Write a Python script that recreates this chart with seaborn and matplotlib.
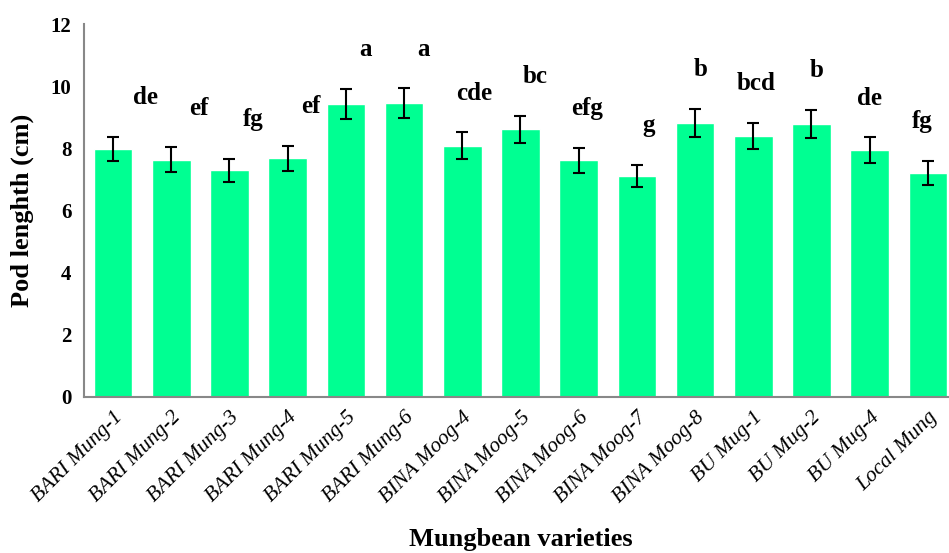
import numpy as np
import pandas as pd
import matplotlib
matplotlib.use("Agg")
import matplotlib.pyplot as plt
import seaborn as sns

# Pod length of mungbean varieties
varieties = ["BARI Mung-1", "BARI Mung-2", "BARI Mung-3", "BARI Mung-4", "BARI Mung-5",
             "BARI Mung-6", "BINA Moog-4", "BINA Moog-5", "BINA Moog-6", "BINA Moog-7",
             "BINA Moog-8", "BU Mug-1", "BU Mug-2", "BU Mug-4", "Local Mung"]
pod_length = [7.98, 7.63, 7.30, 7.68, 9.43, 9.45, 8.09, 8.61, 7.61, 7.10,
              8.81, 8.40, 8.78, 7.95, 7.21]
pod_err = [0.40, 0.40, 0.37, 0.40, 0.48, 0.48, 0.42, 0.43, 0.40, 0.36,
           0.46, 0.43, 0.45, 0.41, 0.38]
letters = ["de", "ef", "fg", "ef", "a", "a", "cde", "bc", "efg", "g",
           "b", "bcd", "b", "de", "fg"]
# letters were placed by hand in the original, slightly to the right of each bar
letter_shift = [0.55, 0.48, 0.41, 0.40, 0.34, 0.33, 0.21, 0.26, 0.15, 0.21,
                0.10, 0.05, 0.09, 0.0, -0.09]

df = pd.DataFrame({"variety": varieties, "length": pod_length})

sns.set_style("white")
plt.rcParams["font.family"] = ["Liberation Serif", "DejaVu Serif"]
plt.rcParams["text.color"] = "black"
plt.rcParams["axes.labelcolor"] = "black"

fig = plt.figure(figsize=(9.49, 5.53), dpi=100)
ax = fig.add_axes([84 / 949, 1 - 397 / 553, 873 / 949, 373 / 553])

sns.barplot(data=df, x="variety", y="length", color="#00FF92", width=0.665,
            saturation=1, errorbar=None, ax=ax)

pos = np.arange(len(varieties))
ax.errorbar(pos, pod_length, yerr=pod_err, fmt="none", ecolor="black",
            elinewidth=1.5, capsize=4, capthick=1.5)

for x, v, e, lab, s in zip(pos, pod_length, pod_err, letters, letter_shift):
    ax.text(x + s, v + e + 1.05, lab, ha="center", va="baseline",
            fontsize=18, fontweight="bold", color="black")

ax.set_xlim(-0.5, len(varieties) - 0.5)
ax.set_ylim(0, 12)
ax.set_yticks(np.arange(0, 13, 2))
ax.set_yticklabels([str(t) for t in range(0, 13, 2)], fontsize=15, fontweight="bold")

ax.set_xticks(pos)
ax.set_xticklabels(varieties, rotation=45, ha="right", rotation_mode="anchor",
                   fontsize=15.5, fontstyle="italic")
ax.set_xticks(np.arange(-0.5, len(varieties), 1), minor=True)
ax.tick_params(axis="x", which="major", length=0, pad=8, labelcolor="black")
ax.tick_params(axis="x", which="minor", length=5, width=1.5, color="#888888", direction="out")
ax.tick_params(axis="y", length=5, width=1.5, color="#888888", direction="out", pad=4,
               labelcolor="black")

for side in ["top", "right"]:
    ax.spines[side].set_visible(False)
for side in ["left", "bottom"]:
    ax.spines[side].set_color("#888888")
    ax.spines[side].set_linewidth(1.5)

ax.set_ylabel("Pod lenghth (cm)", fontsize=19, fontweight="bold", labelpad=12)
ax.set_xlabel("Mungbean varieties", fontsize=19, fontweight="bold", labelpad=15)

fig.savefig("out.png", dpi=100)
